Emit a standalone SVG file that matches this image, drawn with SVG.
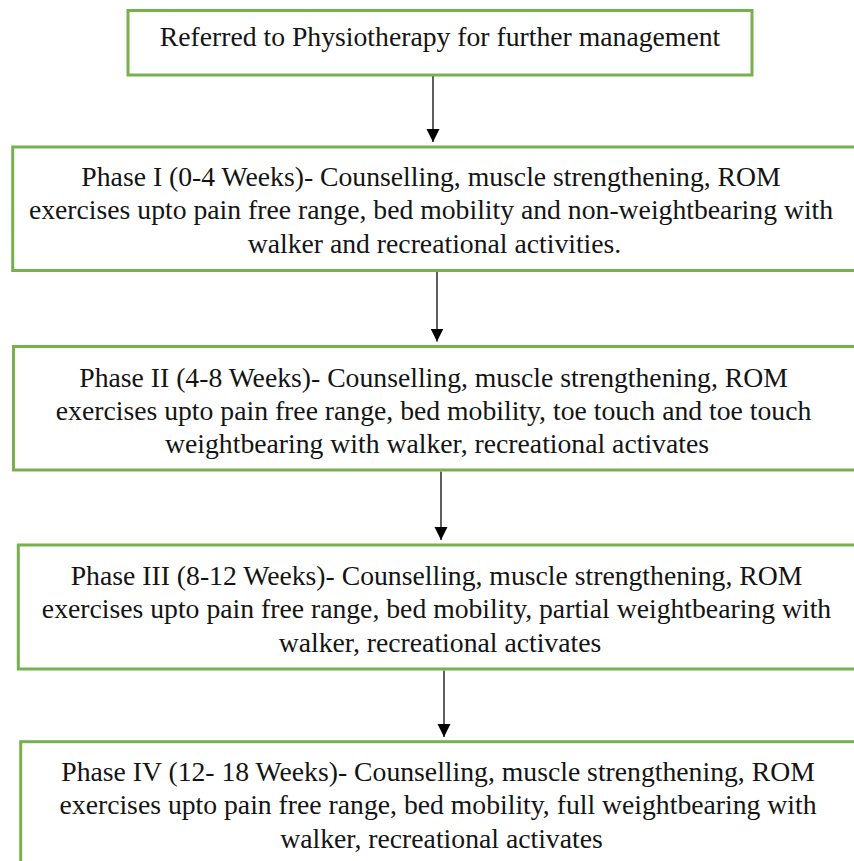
<svg xmlns="http://www.w3.org/2000/svg" width="854" height="861" viewBox="0 0 854 861">
  <style>
    .box { fill: #ffffff; stroke: #78b04e; stroke-width: 3; }
    .lbl { font-family: "Liberation Serif", "Times New Roman", serif; font-size: 27.7px; fill: #141414; text-anchor: middle; }
    .conn { stroke: #1a1a1a; stroke-width: 1.4; fill: none; }
  </style>
  <defs>
    <marker id="ah" markerUnits="userSpaceOnUse" markerWidth="14" markerHeight="14" refX="13" refY="6.5" orient="auto">
      <path d="M0,0 L13,6.5 L0,13 z" fill="#000000"/>
    </marker>
  </defs>
  <rect x="0" y="0" width="854" height="861" fill="#ffffff"/>

  <g id="connectors">
    <line class="conn" x1="433" y1="76" x2="433" y2="142" marker-end="url(#ah)"/>
    <line class="conn" x1="437" y1="272" x2="437" y2="341.5" marker-end="url(#ah)"/>
    <line class="conn" x1="441" y1="471.5" x2="441" y2="540" marker-end="url(#ah)"/>
    <line class="conn" x1="444" y1="670.5" x2="444" y2="737" marker-end="url(#ah)"/>
  </g>

  <g id="node-referred">
    <rect class="box" x="128" y="10.5" width="624" height="64.5"/>
    <text class="lbl" x="440" y="46">Referred to Physiotherapy for further management</text>
  </g>

  <g id="node-phase1">
    <rect class="box" x="12.7" y="147" width="860" height="123.5"/>
    <text class="lbl">
      <tspan x="434.5" y="186">Phase I (0-4 Weeks)- Counselling, muscle strengthening, ROM</tspan>
      <tspan x="434.5" y="219.4">exercises upto pain free range, bed mobility and non-weightbearing with</tspan>
      <tspan x="434.5" y="252.8">walker and recreational activities.</tspan>
    </text>
  </g>

  <g id="node-phase2">
    <rect class="box" x="13.5" y="346.5" width="860" height="123.5"/>
    <text class="lbl">
      <tspan x="437" y="386.5">Phase II (4-8 Weeks)- Counselling, muscle strengthening, ROM</tspan>
      <tspan x="437" y="419.9">exercises upto pain free range, bed mobility, toe touch and toe touch</tspan>
      <tspan x="437" y="453.3">weightbearing with walker, recreational activates</tspan>
    </text>
  </g>

  <g id="node-phase3">
    <rect class="box" x="18.3" y="545" width="860" height="124"/>
    <text class="lbl">
      <tspan x="440" y="585">Phase III (8-12 Weeks)- Counselling, muscle strengthening, ROM</tspan>
      <tspan x="440" y="618.4">exercises upto pain free range, bed mobility, partial weightbearing with</tspan>
      <tspan x="440" y="651.8">walker, recreational activates</tspan>
    </text>
  </g>

  <g id="node-phase4">
    <rect class="box" x="20.7" y="741.7" width="860" height="140"/>
    <text class="lbl">
      <tspan x="441.5" y="781">Phase IV (12- 18 Weeks)- Counselling, muscle strengthening, ROM</tspan>
      <tspan x="441.5" y="814.4">exercises upto pain free range, bed mobility, full weightbearing with</tspan>
      <tspan x="441.5" y="847.8">walker, recreational activates</tspan>
    </text>
  </g>
</svg>
